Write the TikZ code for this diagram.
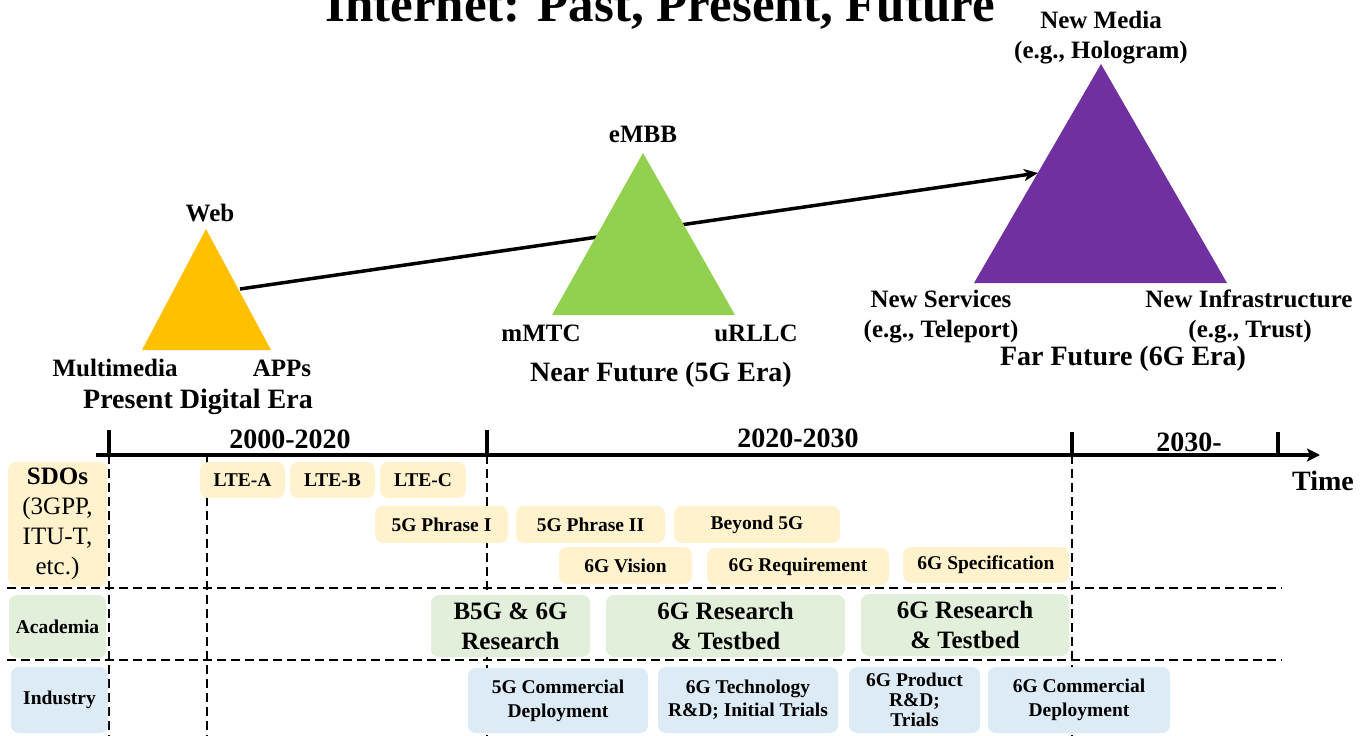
\documentclass[tikz,border=0pt]{standalone}
\usepackage{fontspec}
\setmainfont{Liberation Serif}
\usetikzlibrary{arrows.meta}
\definecolor{cyel}{HTML}{FFC000}
\definecolor{cgrn}{HTML}{92D050}
\definecolor{cpur}{HTML}{7030A0}
\definecolor{cboxy}{HTML}{FFF2CC}
\definecolor{cboxg}{HTML}{E2EFDA}
\definecolor{cboxb}{HTML}{DDEBF7}
\newcommand\tbx[7]{\node[#1, minimum width={(#5-#3)*1pt}, minimum height={(#6-#4)*1pt}] (#2) at ({(#3+#5)/2},{(#4+#6)/2}) {#7};}
\tikzset{
  lab/.style={font=\fontsize{25}{30}\selectfont\bfseries, inner sep=0pt, anchor=base},
  era/.style={font=\fontsize{28}{33}\selectfont\bfseries, inner sep=0pt, anchor=base},
  tbox/.style={rounded corners=8pt, inner sep=0pt, align=center, font=\fontsize{19.5}{24}\selectfont\bfseries},
  sdo/.style={tbox, fill=cboxy},
  aca/.style={tbox, fill=cboxg},
  ind/.style={tbox, fill=cboxb},
  bigbox/.style={font=\fontsize{25}{30}\selectfont\bfseries},
  gridline/.style={line width=2.4pt, dash pattern=on 9pt off 5pt},
  tickline/.style={line width=3.8pt},
}
\begin{document}
\begin{tikzpicture}[x=1pt,y=-1pt]
\clip (0,0) rectangle (1369,736);
% title
\node[font=\fontsize{51}{60}\selectfont\bfseries, inner sep=0pt, anchor=base] (title) at (660,21) {Internet: Past, Present, Future};
% arrow
\coordinate (arS) at (240,289);
\coordinate (arE) at (1038,173);
\draw[line width=3.5pt, -{Stealth[length=14pt,width=12pt,inset=4pt]}] (arS) -- (arE);
% triangles
\fill[cyel] (206,229) -- (142,350) -- (271,350) -- cycle;
\fill[cgrn] (643,153) -- (552,315) -- (735,315) -- cycle;
\fill[cpur] (1101,64) -- (974,283) -- (1227,283) -- cycle;
% triangle labels
\node[lab] (web) at (210,221) {Web};
\node[lab] (mm) at (115,376) {Multimedia};
\node[lab] (apps) at (282,376) {APPs};
\node[era] (pde) at (198,408) {Present Digital Era};
\node[lab] (embb) at (643,142) {eMBB};
\node[lab] (mmtc) at (541,341) {mMTC};
\node[lab] (urllc) at (756,341) {uRLLC};
\node[era] (nf) at (661,381) {Near Future (5G Era)};
\node[lab] (nm1) at (1101,28) {New Media};
\node[lab] (nm2) at (1101,58) {(e.g., Hologram)};
\node[lab] (ns1) at (941,307) {New Services};
\node[lab] (ns2) at (941,337) {(e.g., Teleport)};
\node[lab] (ni1) at (1249,307) {New Infrastructure};
\node[lab] (ni2) at (1250,337) {(e.g., Trust)};
\node[era] (ff) at (1123,365) {Far Future (6G Era)};
% grid lines
\draw[gridline] (109,455) -- (109,736);
\draw[gridline] (207,455) -- (207,736);
\draw[gridline] (487,455) -- (487,736);
\draw[gridline] (1072,455) -- (1072,736);
\draw[gridline] (7,588) -- (1282,588);
\draw[gridline] (7,660) -- (1282,660);
% axis
\coordinate (axS) at (96,455);
\coordinate (axE) at (1320,455);
\draw[line width=3.8pt, -{Stealth[length=13pt,width=13pt,inset=3pt]}] (axS) -- (axE);
\draw[tickline] (109,430) -- (109,455);
\draw[tickline] (487,430) -- (487,455);
\draw[tickline] (1072,432) -- (1072,455);
\draw[tickline] (1278,432) -- (1278,455);
\node[era] (t1) at (290,448) {2000-2020};
\node[era] (t2) at (798,447) {2020-2030};
\node[era] (t3) at (1189,451) {2030-};
\node[era] (time) at (1323,490) {Time};
% SDO row
\tbx{sdo, font=\fontsize{25}{30}\selectfont}{sdos}{8}{462}{107}{586}{\textbf{SDOs}\\(3GPP,\\ITU-T,\\etc.)}
\tbx{sdo}{ltea}{200}{462}{285}{498}{LTE-A}
\tbx{sdo}{lteb}{290}{462}{375}{498}{LTE-B}
\tbx{sdo}{ltec}{380}{462}{466}{498}{LTE-C}
\tbx{sdo}{p1}{375}{506}{508}{543}{5G Phrase I}
\tbx{sdo}{p2}{516}{506}{665}{543}{5G Phrase II}
\tbx{sdo}{b5g}{674}{506}{840}{543}{Beyond 5G}
\tbx{sdo}{vis}{559}{547}{692}{584}{6G Vision}
\tbx{sdo}{req}{707}{548}{889}{585}{6G Requirement}
\tbx{sdo}{spec}{903}{547}{1069}{583}{6G Specification}
% Academia row
\tbx{aca}{acad}{9}{595}{106}{658}{Academia}
\tbx{aca, bigbox}{r1}{431}{595}{590}{657}{B5G \& 6G\\Research}
\tbx{aca, bigbox}{r2}{606}{595}{845}{657}{6G Research\\\& Testbed}
\tbx{aca, bigbox}{r3}{861}{594}{1069}{656}{6G Research\\\& Testbed}
% Industry row
\tbx{ind}{indu}{11}{667}{108}{733}{Industry}
\tbx{ind}{i1}{468}{668}{648}{733}{5G Commercial\\Deployment}
\tbx{ind, font=\fontsize{19.5}{23}\selectfont\bfseries}{i2}{658}{667}{838}{733}{6G Technology\\R\&D; Initial Trials}
\tbx{ind, font=\fontsize{19.5}{20}\selectfont\bfseries}{i3}{849}{667}{980}{733}{6G Product\\R\&D;\\Trials}
\tbx{ind}{i4}{988}{667}{1170}{733}{6G Commercial\\Deployment}
\end{tikzpicture}
\end{document}
